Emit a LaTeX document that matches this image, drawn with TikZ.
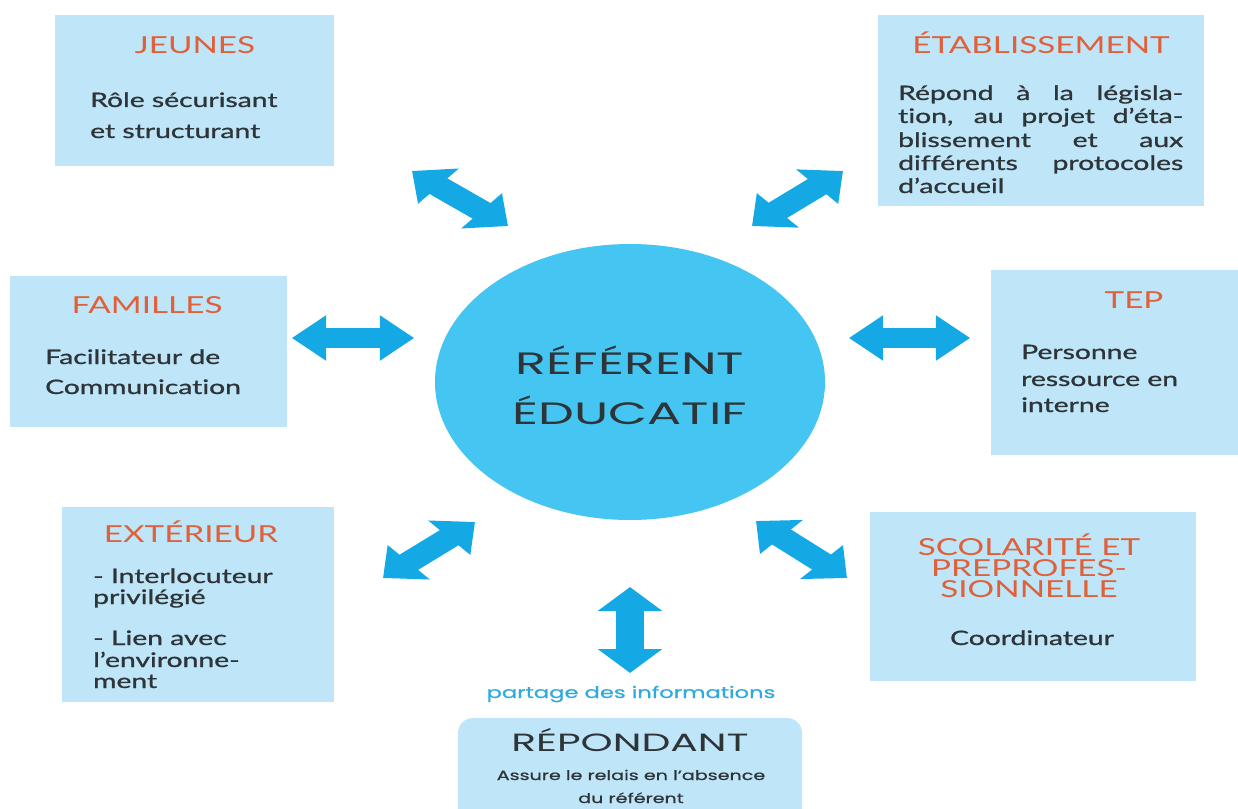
\documentclass[tikz,border=0pt]{standalone}
\usepackage{fontspec}
\setmainfont{Lato}[Ligatures={NoCommon}]
\newfontfamily\bodyf{Lato}[FakeBold=0.9,Ligatures={NoCommon}]
\newfontfamily\geo{Poppins}
\newfontfamily\geob{Poppins}[FakeBold=0.7]
\usetikzlibrary{arrows.meta,shapes.geometric}
\definecolor{boxblue}{HTML}{BEE6F8}
\definecolor{titleor}{HTML}{E0603A}
\definecolor{bodyc}{HTML}{2E3438}
\definecolor{circ}{HTML}{45C5F1}
\definecolor{arr}{HTML}{14A8E4}
\definecolor{partc}{HTML}{2EAAE0}
\newcommand{\sx}[1]{\scalebox{1.42}[1]{#1}}
\newcommand{\sxx}[1]{\scalebox{1.64}[1]{#1}}
\begin{document}
\begin{tikzpicture}[x=1bp,y=-1bp,
  box/.style={fill=boxblue, draw=none, inner sep=0, outer sep=0, anchor=north west},
  ttl/.style={text=titleor, font=\fontsize{23.5}{23.5}\selectfont, inner sep=0, anchor=base},
  bodytxt/.style={text=bodyc, font=\bodyf\fontsize{20}{20}\selectfont, inner sep=0, anchor=base west},
  dbl/.style={draw=arr, line width=20bp, {Triangle[width=44bp,length=24bp]}-{Triangle[width=44bp,length=24bp]}}]

\useasboundingbox (0,0) rectangle (1238,809);

% boxes
\node[box, minimum width=279bp, minimum height=151bp] (jeunes) at (55,15) {};
\node[box, minimum width=326bp, minimum height=191bp] (etab) at (878,15) {};
\node[box, minimum width=277bp, minimum height=151bp] (fam) at (10,276) {};
\node[box, minimum width=247bp, minimum height=185bp] (tep) at (991,270) {};
\node[box, minimum width=272bp, minimum height=195bp] (ext) at (62,507) {};
\node[box, minimum width=326bp, minimum height=169bp] (scol) at (870,512) {};
\node[box, rounded corners=15bp, minimum width=344bp, minimum height=120bp] (rep) at (458,718) {};

% centre
\node[ellipse, fill=circ, minimum width=390bp, minimum height=276bp, inner sep=0] (ref) at (630,382) {};
\node[text=bodyc, font=\geo\fontsize{31}{31}\selectfont, inner sep=0, anchor=base] (ref1) at (630,374) {\sxx{RÉFÉRENT}};
\node[text=bodyc, font=\geo\fontsize{31}{31}\selectfont, inner sep=0, anchor=base] (ref2) at (630,424) {\sxx{ÉDUCATIF}};

% JEUNES
\node[ttl] (t1) at (195,54) {\sx{JEUNES}};
\node[bodytxt] (j1) at (90,107) {\sx{Rôle sécurisant}};
\node[bodytxt] (j2) at (90,138) {\sx{et structurant}};

% ETABLISSEMENT
\node[ttl] (t2) at (1041,54) {\sx{ÉTABLISSEMENT}};
\node[bodytxt] (e1) at (898,100) {\sx{\makebox[200.7bp][s]{Répond à la législa-}}};
\node[bodytxt] (e2) at (898,123) {\sx{\makebox[200.7bp][s]{tion, au projet d’éta-}}};
\node[bodytxt] (e3) at (898,147) {\sx{\makebox[200.7bp][s]{blissement et aux}}};
\node[bodytxt] (e4) at (898,170) {\sx{\makebox[200.7bp][s]{différents protocoles}}};
\node[bodytxt] (e5) at (898,193) {\sx{d’accueil}};

% FAMILLES
\node[ttl] (t3) at (147,313) {\sx{FAMILLES}};
\node[bodytxt] (f1) at (45,364) {\sx{Facilitateur de}};
\node[bodytxt] (f2) at (45,394) {\sx{Communication}};

% TEP
\node[ttl] (t4) at (1134,308) {\sx{TEP}};
\node[bodytxt] (p1) at (1021,359) {\sx{Personne}};
\node[bodytxt] (p2) at (1021,386) {\sx{ressource en}};
\node[bodytxt] (p3) at (1021,412) {\sx{interne}};

% EXTERIEUR
\node[ttl] (t5) at (191,542) {\sx{EXTÉRIEUR}};
\node[bodytxt] (x1) at (93,583) {\sx{- Interlocuteur}};
\node[bodytxt] (x2) at (93,604) {\sx{privilégié}};
\node[bodytxt] (x3) at (93,645) {\sx{- Lien avec}};
\node[bodytxt] (x4) at (93,667) {\sx{l’environne-}};
\node[bodytxt] (x5) at (93,688) {\sx{ment}};

% SCOLARITE
\node[ttl] (t6a) at (1029,555) {\sx{SCOLARITÉ ET}};
\node[ttl] (t6b) at (1029,576) {\sx{PREPROFES-}};
\node[ttl] (t6c) at (1029,597) {\sx{SIONNELLE}};
\node[bodytxt, anchor=base] (s1) at (1032,645) {\sx{Coordinateur}};

% REPONDANT
\node[text=partc, font=\geob\fontsize{16}{16}\selectfont, inner sep=0, anchor=base] (part) at (631,698) {\sx{partage des informations}};
\node[text=bodyc, font=\geo\fontsize{25}{25}\selectfont, inner sep=0, anchor=base] (r1) at (630,751) {\sxx{RÉPONDANT}};
\node[text=bodyc, font=\geob\fontsize{13.5}{13.5}\selectfont, inner sep=0, anchor=base] (r2) at (631,780) {\sx{Assure le relais en l’absence}};
\node[text=bodyc, font=\geob\fontsize{13.5}{13.5}\selectfont, inner sep=0, anchor=base] (r3) at (631,803) {\sx{du référent}};

% arrows, drawn in unstretched space then stretched horizontally like the picture
\begin{scope}[transform canvas={xscale=1.42}]
\coordinate (a1s) at (412/1.42,171); \coordinate (a1e) at (508/1.42,226);
\coordinate (a2s) at (843/1.42,171); \coordinate (a2e) at (752/1.42,226);
\coordinate (a3s) at (292/1.42,338); \coordinate (a3e) at (414/1.42,338);
\coordinate (a4s) at (849/1.42,338); \coordinate (a4e) at (970/1.42,338);
\coordinate (a5s) at (383/1.42,578); \coordinate (a5e) at (475/1.42,522);
\coordinate (a6s) at (756/1.42,521); \coordinate (a6e) at (847/1.42,578);
\coordinate (a7s) at (630/1.42,587); \coordinate (a7e) at (630/1.42,673);
\draw[dbl] (a1s) -- (a1e);
\draw[dbl] (a2s) -- (a2e);
\draw[dbl] (a3s) -- (a3e);
\draw[dbl] (a4s) -- (a4e);
\draw[dbl] (a5s) -- (a5e);
\draw[dbl] (a6s) -- (a6e);
\draw[dbl] (a7s) -- (a7e);
\end{scope}
\end{tikzpicture}
\end{document}
